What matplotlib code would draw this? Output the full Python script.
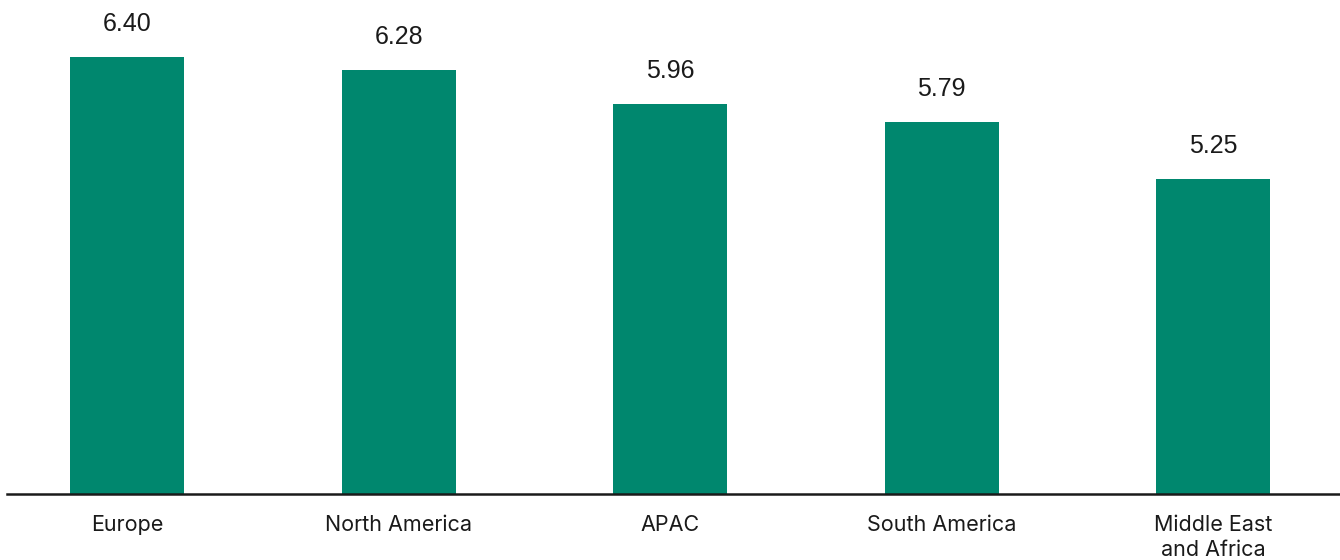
import matplotlib
matplotlib.use("Agg")
import matplotlib.pyplot as plt

# values as printed above each bar
regions = ["Europe", "North America", "APAC", "South America",
           "Middle East\nand Africa"]
scores = [6.40, 6.28, 5.96, 5.79, 5.25]

GREEN = "#00876e"
INK = "#1a1a1a"

fig = plt.figure(figsize=(13.4, 5.6), dpi=100)
fig.patch.set_facecolor("white")
# baseline sits at ~494 px from the top, line runs nearly full width
ax = fig.add_axes([7 / 1340, 66 / 560, 1333 / 1340, 494 / 560])

x = list(range(len(regions)))
ax.bar(x, scores, width=0.42, color=GREEN, zorder=2)

ax.set_xlim(-0.4436, 4.468)
ax.set_ylim(2.26, 6.943)

for xi, v in zip(x, scores):
    ax.annotate(f"{v:.2f}", xy=(xi, v), xytext=(0, 21),
                textcoords="offset pixels", ha="center", va="bottom",
                fontsize=18, color=INK, family="Liberation Sans")

ax.set_xticks(x)
ax.set_xticklabels(regions, fontsize=15.5, color=INK, family="Inter",
                   linespacing=1.3, va="top")
ax.tick_params(axis="x", length=0, pad=15)
ax.set_yticks([])

for s in ["top", "right", "left"]:
    ax.spines[s].set_visible(False)
ax.spines["bottom"].set_linewidth(1.8)
ax.spines["bottom"].set_color(INK)
ax.spines["bottom"].set_zorder(3)
ax.set_facecolor("none")

fig.savefig("out.png", dpi=100, facecolor="white")
